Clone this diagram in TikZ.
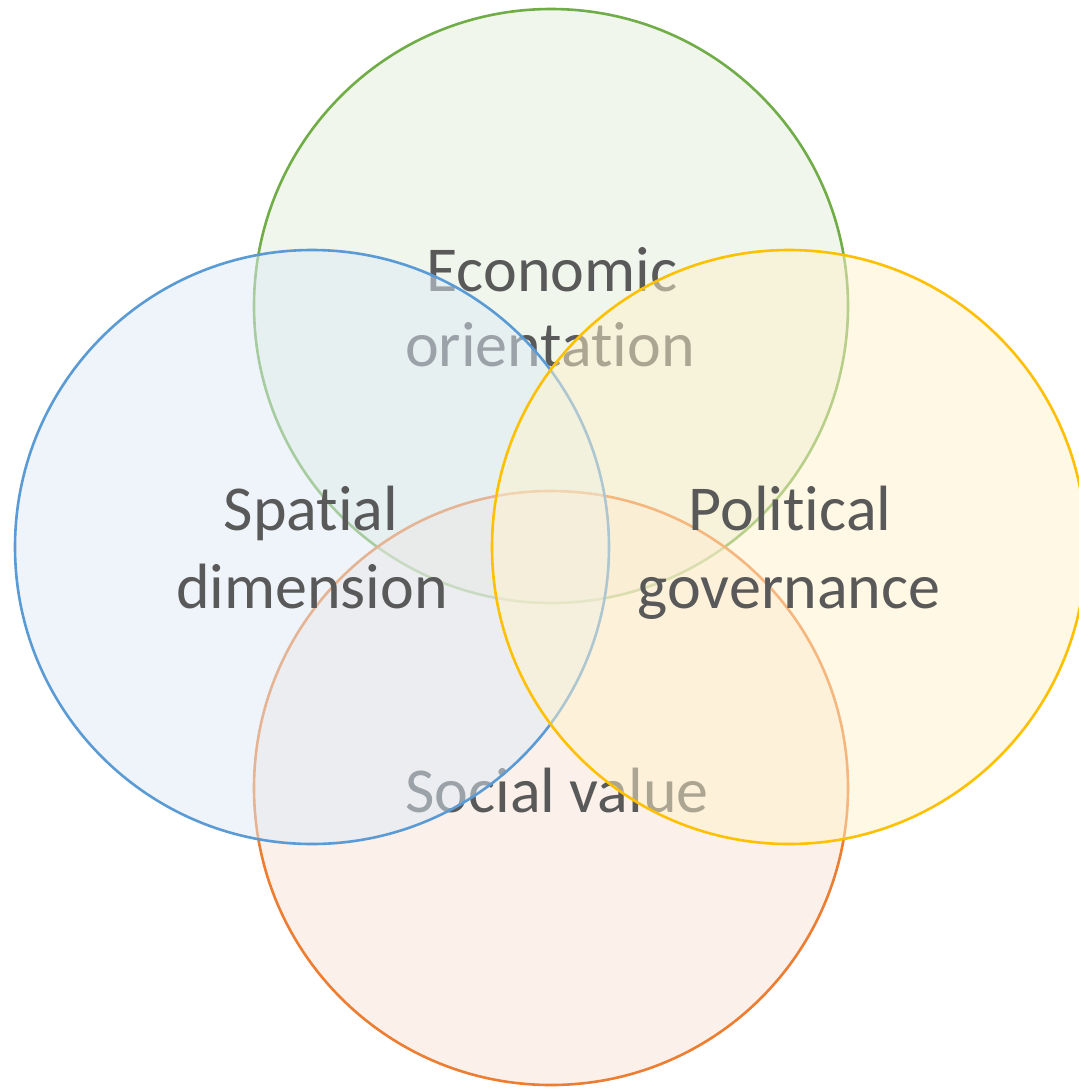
\documentclass[tikz,border=0pt]{standalone}
\usepackage{fontspec}
\setmainfont{Carlito}[RawFeature={-liga;-clig;-dlig}]
\begin{document}
\begin{tikzpicture}[x=1pt,y=-1pt,
  venn/.style={line width=2.6pt, fill opacity=0.5},
  lbl/.style={anchor=base, inner sep=0pt, text=txtgray, font=\fontsize{64}{78}\selectfont}]
\definecolor{txtgray}{HTML}{595959}
\definecolor{gstroke}{HTML}{70AD47}\definecolor{gfill}{HTML}{E2EFDA}
\definecolor{ostroke}{HTML}{ED7D31}\definecolor{ofill}{HTML}{FBE5D6}
\definecolor{bstroke}{HTML}{5B9BD5}\definecolor{bfill}{HTML}{DEEBF7}
\definecolor{ystroke}{HTML}{FFC000}\definecolor{yfill}{HTML}{FFF2CC}
\useasboundingbox[fill=white] (0,0) rectangle (1079,1088);
% green (top)
\draw[venn, draw=gstroke, fill=gfill] (551,306) circle[radius=297];
\node[lbl] (eco1) at (552,291) {Economic};
\node[lbl] (eco2) at (550,366) {orientation};
% orange (bottom)
\draw[venn, draw=ostroke, fill=ofill] (551,788) circle[radius=297];
\node[lbl] (soc) at (557,812) {Social value};
% blue (left)
\draw[venn, draw=bstroke, fill=bfill] (312,547) circle[radius=297];
\node[lbl] (spa1) at (311,530) {Spatial};
\node[lbl] (spa2) at (312,608) {dimension};
% yellow (right)
\draw[venn, draw=ystroke, fill=yfill] (789,547) circle[radius=297];
\node[lbl] (pol1) at (790,530) {Political};
\node[lbl] (pol2) at (789,608) {governance};
\end{tikzpicture}
\end{document}
